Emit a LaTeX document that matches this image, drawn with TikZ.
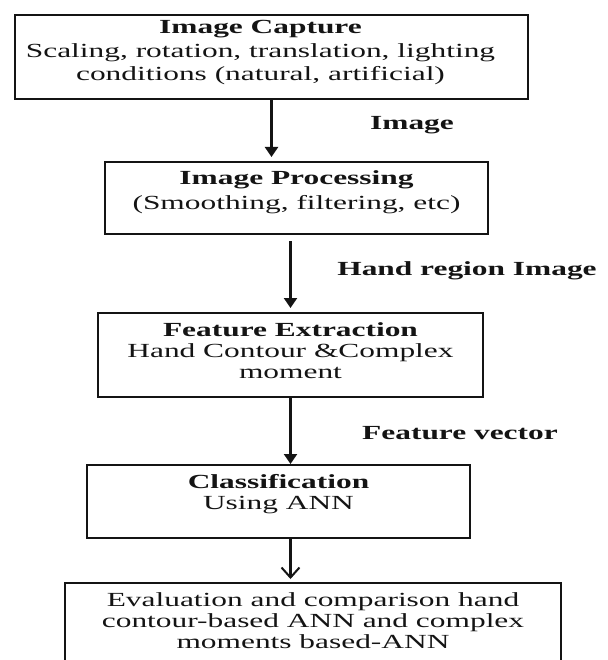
\documentclass[tikz,border=0pt]{standalone}
\usepackage{fontspec}
\setmainfont{Liberation Serif}[FakeStretch=1.57]
\usetikzlibrary{arrows.meta,positioning}
\definecolor{Ink}{HTML}{141414}
\tikzset{
  stagebox/.style={draw=Ink,line width=2pt,inner sep=0pt},
  stagetext/.style={font=\fontsize{20}{21}\selectfont,align=center,inner sep=0pt,text=Ink},
  flowlabel/.style={font=\fontsize{20}{21}\selectfont\bfseries,inner sep=0pt,text=Ink},
  arrow/.style={-{Triangle[length=10pt,width=13pt]},line width=2.2pt,draw=Ink,shorten >=4pt},
  openArrow/.style={-{Straight Barb[length=10pt,width=18pt,line width=2pt]},line width=2.2pt,draw=Ink,shorten >=3pt}
}
\begin{document}
\begin{tikzpicture}[x=1pt,y=-1pt]
\useasboundingbox (0,0) rectangle (607,660);
\fill[white] (0,0) rectangle (607,660);
\clip (0,0) rectangle (607,660);
% stages
\node[stagebox,minimum width=513pt,minimum height=84pt] (cap) at (271.5,57) {};
\node[stagetext,below=6pt of cap.north,xshift=-11pt] (capT) {\textbf{Image Capture}\\[3pt]Scaling, rotation, translation, lighting\\[2pt]conditions (natural, artificial)};
\node[stagebox,minimum width=383pt,minimum height=72pt] (proc) at (296.5,198) {};
\node[stagetext,below=9.5pt of proc.north] (procT) {\textbf{Image Processing}\\[4pt](Smoothing, filtering, etc)};
\node[stagebox,minimum width=385pt,minimum height=84pt] (feat) at (290.5,355) {};
\node[stagetext,below=10.5pt of feat.north] (featT) {\textbf{Feature Extraction}\\Hand Contour \&Complex\\moment};
\node[stagebox,minimum width=383pt,minimum height=73pt] (cls) at (278.5,501.5) {};
\node[stagetext,below=10.5pt of cls.north] (clsT) {\textbf{Classification}\\Using ANN};
\node[stagebox,minimum width=496pt,minimum height=100pt] (eval) at (313,633) {};
\node[stagetext,below=10.5pt of eval.north] (evalT) {Evaluation and comparison hand\\contour-based ANN and complex\\moments based-ANN};
% labels
\node[flowlabel] (imgLbl) at (412,125) {Image};
\node[flowlabel] (handLbl) at (467,271) {Hand region Image};
\node[flowlabel] (vecLbl) at (460,433) {Feature vector};
% arrows
\draw[arrow] (cap.south) -- (cap.south |- proc.north);
\draw[arrow,shorten <=6pt] (proc.south -| feat.north) -- (feat.north);
\draw[arrow,shorten >=0pt] (feat.south) -- (cls.north -| feat.south);
\draw[openArrow] (cls.south -| feat.south) -- (eval.north -| feat.south);
\end{tikzpicture}
\end{document}
